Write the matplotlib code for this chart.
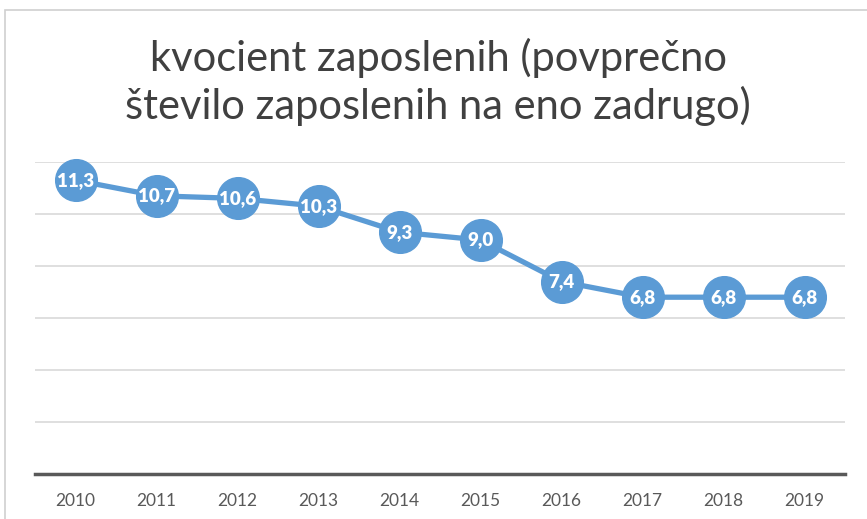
import matplotlib
matplotlib.use("Agg")
import matplotlib.pyplot as plt
from matplotlib.patches import Rectangle

years = ["2010", "2011", "2012", "2013", "2014", "2015", "2016", "2017", "2018", "2019"]
values = [11.3, 10.7, 10.6, 10.3, 9.3, 9.0, 7.4, 6.8, 6.8, 6.8]
title = "kvocient zaposlenih (povprečno\nštevilo zaposlenih na eno zadrugo)"

W, H = 867, 519
fig = plt.figure(figsize=(W / 100, H / 100), dpi=100)
fig.patch.set_facecolor("white")

# outer chart border (cropped)
fig.patches.append(Rectangle((5 / W, -0.1), 1.2, 1 - 10 / H + 0.1, transform=fig.transFigure,
                             fill=False, edgecolor="#d0d0d0", linewidth=1.2))

ax = fig.add_axes([35 / W, 1 - 474 / H, 810 / W, (474 - 162) / H])
x = list(range(len(years)))
ax.plot(x, values, color="#5b9bd5", linewidth=3.8, marker="o", markersize=30,
        markerfacecolor="#5b9bd5", markeredgecolor="#5b9bd5", zorder=3, clip_on=False)
for xi, v in zip(x, values):
    ax.text(xi, v, f"{v:.1f}".replace(".", ","), ha="center", va="center", color="white",
            fontsize=13.5, fontweight="heavy", family="Lato", zorder=4)

ax.set_xlim(-0.5, len(years) - 0.5)
ax.set_ylim(0, 12)
ax.set_yticks([2, 4, 6, 8, 10, 12])
ax.yaxis.grid(True, color="#d9d9d9", linewidth=1.2)
ax.set_axisbelow(True)
ax.tick_params(axis="y", left=False, labelleft=False)
ax.tick_params(axis="x", bottom=False, pad=10, labelsize=12.5, labelcolor="#595959")
ax.set_xticks(x)
ax.set_xticklabels(years, family="Lato")
for s in ["top", "right", "left"]:
    ax.spines[s].set_visible(False)
ax.spines["bottom"].set_color("#595959")
ax.spines["bottom"].set_linewidth(2.5)

fig.text(0.5 * (35 + 845) / W - 0.002, 1 - 82 / H, title, ha="center", va="center",
         fontsize=30, color="#404040", family="Lato", linespacing=1.25)

fig.savefig("out.png", dpi=100)
